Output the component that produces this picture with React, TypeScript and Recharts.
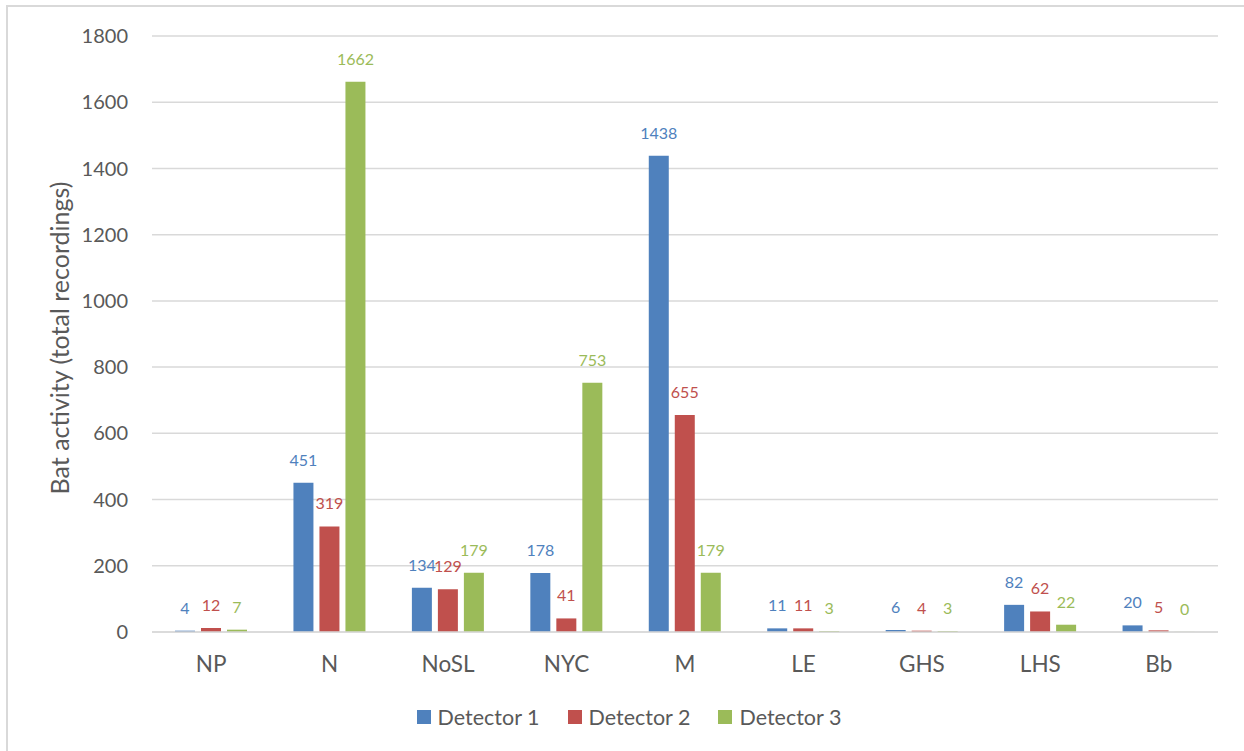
import React from 'react';
import { BarChart, Bar, XAxis, YAxis, CartesianGrid, Legend, LabelList } from 'recharts';

// site codes along the x axis
const sites = ['NP', 'N', 'NoSL', 'NYC', 'M', 'LE', 'GHS', 'LHS', 'Bb'];
const detector1 = [4, 451, 134, 178, 1438, 11, 6, 82, 20];
const detector2 = [12, 319, 129, 41, 655, 11, 4, 62, 5];
const detector3 = [7, 1662, 179, 753, 179, 3, 3, 22, 0];
const yTicks = [0, 200, 400, 600, 800, 1000, 1200, 1400, 1600, 1800];

const series = [
    { key: 'd1', name: 'Detector 1', color: '#4F81BD' },
    { key: 'd2', name: 'Detector 2', color: '#C0504D' },
    { key: 'd3', name: 'Detector 3', color: '#9BBB59' },
];

const data = sites.map((site, i) => ({
    site,
    d1: detector1[i],
    d2: detector2[i],
    d3: detector3[i],
}));

const TEXT = '#595959';
const GRID = '#d9d9d9';

const renderLegend = (props: any) => {
    const items = props.payload || [];
    return (
        <div style={{ height: 69, boxSizing: 'border-box', paddingTop: 25, paddingLeft: 14, display: 'flex', justifyContent: 'center' }}>
            {items.map((item: any) => (
                <div key={item.value} style={{ display: 'flex', alignItems: 'center', height: 20, margin: '0 14px' }}>
                    <span style={{ width: 14, height: 14, background: item.color, marginRight: 7, display: 'inline-block' }} />
                    <span style={{ fontSize: 21.5, color: TEXT }}>{item.value}</span>
                </div>
            ))}
        </div>
    );
};

// zero-valued bars still need their "0" label, so keep a hairline rect for them
const zeroKeep = (value: any) => (value === 0 ? 0.1 : 0);

const App: React.FC = () => {
    return (
        <div style={{ position: 'absolute', left: 0, top: 0, width: 1244, height: 751, background: '#fff', fontFamily: 'Lato, sans-serif' }}>
            {/* chart area frame, only left/top edges are visible */}
            <div style={{ position: 'absolute', left: 6, top: 5, width: 1238, height: 746, boxSizing: 'border-box', borderLeft: `2px solid ${GRID}`, borderTop: `2px solid ${GRID}` }} />
            <div style={{ position: 'absolute', left: 0, top: 0 }}>
                <BarChart width={1244} height={751} data={data} margin={{ top: 36, right: 26, left: 0, bottom: 0 }} barSize={20} barGap={6}>
                    <CartesianGrid vertical={false} stroke={GRID} strokeWidth={1.5} />
                    <XAxis
                        dataKey="site"
                        height={50}
                        axisLine={{ stroke: GRID, strokeWidth: 1.5 }}
                        tickLine={false}
                        tickSize={0}
                        tickMargin={24}
                        tick={{ fill: TEXT, fontSize: 22.5 }}
                    />
                    <YAxis
                        width={152}
                        domain={[0, 1800]}
                        ticks={yTicks}
                        axisLine={false}
                        tickLine={false}
                        tickSize={0}
                        tickMargin={24}
                        tick={{ fill: TEXT, fontSize: 20 }}
                        label={{ value: 'Bat activity (total recordings)', angle: -90, position: 'center', dx: -16, dy: 4, fill: TEXT, fontSize: 25 }}
                    />
                    <Legend verticalAlign="bottom" content={renderLegend} wrapperStyle={{ left: 0, width: 1244 }} />
                    {series.map((s) => (
                        <Bar key={s.key} dataKey={s.key} name={s.name} fill={s.color} minPointSize={zeroKeep} isAnimationActive={false}>
                            <LabelList dataKey={s.key} position="top" offset={17} fill={s.color} fontSize={16} />
                        </Bar>
                    ))}
                </BarChart>
            </div>
        </div>
    );
};

export default App;
